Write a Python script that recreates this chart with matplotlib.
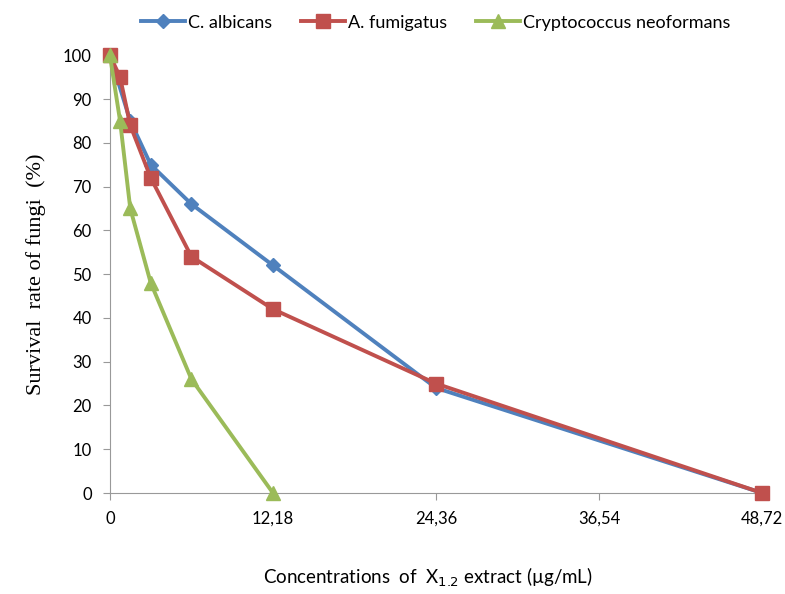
import matplotlib
matplotlib.use("Agg")
import matplotlib.pyplot as plt

# datos
conc = [0, 0.76, 1.52, 3.05, 6.09, 12.18, 24.36, 48.72]
albicans_x = [0, 1.52, 3.05, 6.09, 12.18, 24.36, 48.72]
albicans_y = [100, 85, 75, 66, 52, 24, 0]
fumigatus_y = [100, 95, 84, 72, 54, 42, 25, 0]
crypto_x = [0, 0.76, 1.52, 3.05, 6.09, 12.18]
crypto_y = [100, 85, 65, 48, 26, 0]
xticks = [0, 12.18, 24.36, 36.54, 48.72]
xtick_labels = ["0", "12,18", "24,36", "36,54", "48,72"]

fig = plt.figure(figsize=(7.85, 5.94), dpi=100)
ax = fig.add_axes([0.140, 0.170, 0.831, 0.737])

ax.plot(albicans_x, albicans_y, color="#4F81BD", lw=2.8, marker="D", ms=7.5,
        label="C. albicans", clip_on=False, zorder=3)
ax.plot(conc, fumigatus_y, color="#C0504D", lw=2.8, marker="s", ms=10,
        label="A. fumigatus", clip_on=False, zorder=4)
ax.plot(crypto_x, crypto_y, color="#9BBB59", lw=2.8, marker="^", ms=10,
        label="Cryptococcus neoformans", clip_on=False, zorder=5)

ax.set_xlim(0, 48.72)
ax.set_ylim(0, 100)
ax.set_xticks(xticks)
ax.set_xticklabels(xtick_labels, fontfamily="Lato", fontsize=12)
ax.set_yticks(range(0, 101, 10))
for t in ax.get_yticklabels():
    t.set_fontfamily("Lato")
    t.set_fontsize(12)

for s in ["top", "right"]:
    ax.spines[s].set_visible(False)
for s in ["left", "bottom"]:
    ax.spines[s].set_color("#999999")
ax.tick_params(colors="#999999", labelcolor="black", length=5, pad=8)

ax.set_xlabel(r"Concentrations  of  X$_{1.2}$ extract (µg/mL)",
              fontfamily="Lato", fontsize=13.5)
ax.xaxis.set_label_coords(0.488, -0.165)
ax.set_ylabel("Survival  rate of fungi  (%)", fontfamily="Liberation Serif",
              fontsize=16, labelpad=12)

ax.legend(loc="upper center", bbox_to_anchor=(0.5, 1.13), ncol=3,
          frameon=False, prop={"family": "Lato", "size": 13},
          handlelength=2.4, columnspacing=1.6, handletextpad=0.2)

fig.savefig("out.png", dpi=100)
